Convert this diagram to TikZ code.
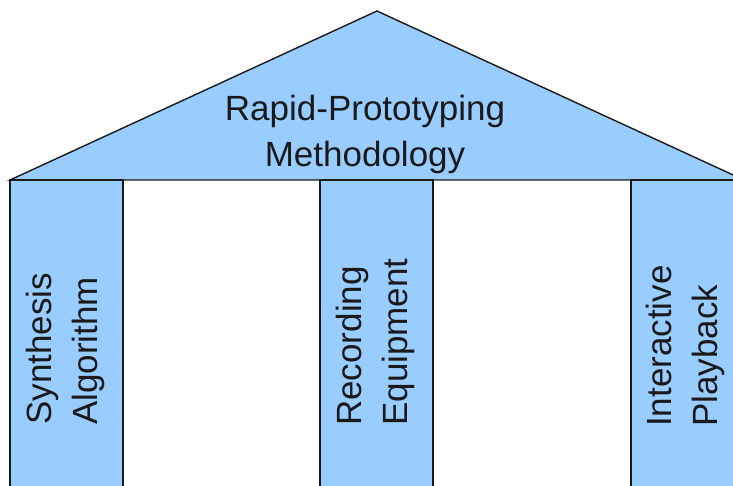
\documentclass[tikz,border=0pt]{standalone}
\usepackage{fontspec}
\setmainfont{Liberation Sans}
\definecolor{pillarblue}{HTML}{99CCFF}
\definecolor{inkdark}{HTML}{1A1A1A}
\begin{document}
\begin{tikzpicture}[x=1pt,y=-1pt,
  part/.style={fill=pillarblue,draw=inkdark,line width=1.4pt,line join=miter},
  label/.style={font=\fontsize{35}{46}\selectfont,text=inkdark,inner sep=0pt},
  pillarlabel/.style={label,rotate=90,anchor=west,align=left}]
\useasboundingbox (0,0) rectangle (733,486);
\clip (0,0) rectangle (733,486);
\draw[part] (10,180) coordinate (roofL) -- (377,11) coordinate (apex) -- (744,180) coordinate (roofR) -- cycle;
\draw[part] (10,180) rectangle (123,495);
\draw[part] (320,180) rectangle (433,495);
\draw[part] (631,180) rectangle (744,495);
\node[label,align=center,anchor=center] (roof) at (365,134) {Rapid-Prototyping\\Methodology};
\node[pillarlabel] (p1) at (65,425) {Synthesis\\Algorithm};
\node[pillarlabel] (p2) at (375.5,426) {Recording\\Equipment};
\node[pillarlabel] (p3) at (685.5,427) {Interactive\\Playback};
\end{tikzpicture}
\end{document}
